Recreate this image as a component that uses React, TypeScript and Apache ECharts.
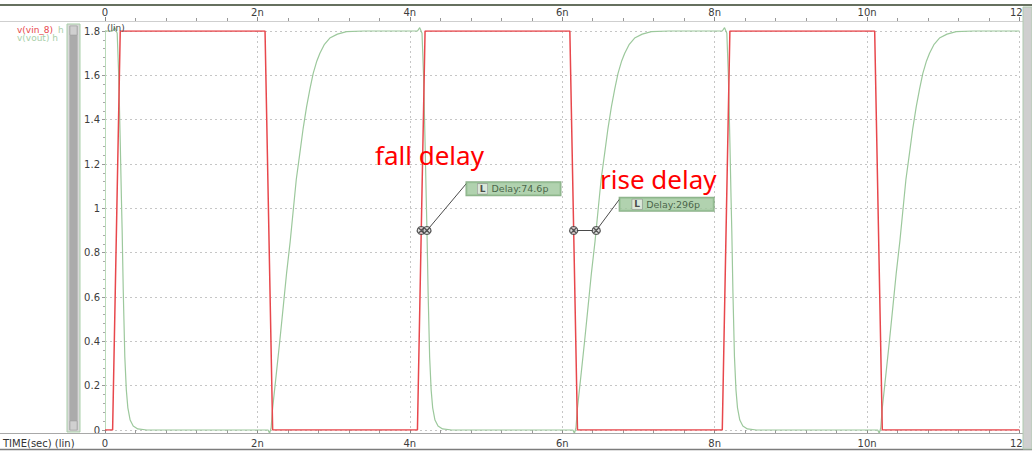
import React, { useEffect, useRef } from "react";
import * as echarts from "echarts";

// time in ns, values in volts
const vinTime = [0, 0.1, 0.2, 2.1, 2.2, 4.1, 4.2, 6.1, 6.2, 8.1, 8.2, 10.1, 10.2, 12];
const vinValue = [0, 0, 1.8, 1.8, 0, 0, 1.8, 1.8, 0, 0, 1.8, 1.8, 0, 0];

const voutTime = [
  0, 0.1, 0.13, 0.16, 0.18, 0.2, 0.215, 0.225, 0.24, 0.26, 0.28, 0.3, 0.33, 0.37, 0.43, 0.55,
  2.1, 2.14, 2.16, 2.18, 2.2, 2.25, 2.295, 2.34, 2.383, 2.43, 2.47, 2.51, 2.557, 2.6, 2.645, 2.69, 2.732, 2.78, 2.82, 2.88, 2.95, 3.05, 3.17, 3.4,
  4.1, 4.13, 4.16, 4.18, 4.2, 4.215, 4.225, 4.24, 4.26, 4.28, 4.3, 4.33, 4.37, 4.43, 4.55,
  6.1, 6.14, 6.16, 6.18, 6.2, 6.25, 6.295, 6.34, 6.383, 6.43, 6.47, 6.51, 6.557, 6.6, 6.645, 6.69, 6.732, 6.78, 6.82, 6.88, 6.95, 7.05, 7.17, 7.4,
  8.1, 8.13, 8.16, 8.18, 8.2, 8.215, 8.225, 8.24, 8.26, 8.28, 8.3, 8.33, 8.37, 8.43, 8.55,
  10.1, 10.14, 10.16, 10.18, 10.2, 10.25, 10.295, 10.34, 10.383, 10.43, 10.47, 10.51, 10.557, 10.6, 10.645, 10.69, 10.732, 10.78, 10.82, 10.88, 10.95, 11.05, 11.17, 11.4,
  12,
];
const voutValue = [
  1.8, 1.8, 1.815, 1.79, 1.6, 1.3, 1.05, 0.9, 0.62, 0.33, 0.18, 0.1, 0.045, 0.018, 0.005, 0,
  0, 0, -0.015, 0.01, 0.1, 0.26, 0.406, 0.56, 0.708, 0.85, 0.99, 1.13, 1.249, 1.36, 1.458, 1.54, 1.609, 1.665, 1.7, 1.74, 1.768, 1.786, 1.797, 1.8,
  1.8, 1.815, 1.79, 1.6, 1.3, 1.05, 0.9, 0.62, 0.33, 0.18, 0.1, 0.045, 0.018, 0.005, 0,
  0, 0, -0.015, 0.01, 0.1, 0.26, 0.406, 0.56, 0.708, 0.85, 0.99, 1.13, 1.249, 1.36, 1.458, 1.54, 1.609, 1.665, 1.7, 1.74, 1.768, 1.786, 1.797, 1.8,
  1.8, 1.815, 1.79, 1.6, 1.3, 1.05, 0.9, 0.62, 0.33, 0.18, 0.1, 0.045, 0.018, 0.005, 0,
  0, 0, -0.015, 0.01, 0.1, 0.26, 0.406, 0.56, 0.708, 0.85, 0.99, 1.13, 1.249, 1.36, 1.458, 1.54, 1.609, 1.665, 1.7, 1.74, 1.768, 1.786, 1.797, 1.8,
  1.8,
];

const fallMarkers = [[4.15, 0.9], [4.2246, 0.9]];
const riseMarkers = [[6.15, 0.9], [6.446, 0.9]];
const fallLabelAt = [4.75, 1.115];
const riseLabelAt = [6.76, 1.045];
const delayTexts = ["Delay:74.6p", "Delay:296p"];
const signalNames = ["v(vin_8)", "v(vout)"];

const RED = "#e8474c";
const GREEN = "#9cc89c";
const AXIS_FONT = "DejaVu Sans";

const zip = (a: number[], b: number[]) => a.map((t, i) => [t, b[i]]);

const markerSymbol =
  "path://M5,0.6A4.4,4.4,0,1,1,4.99,0.6Z M2,2L8,8M8,2L2,8";

export default function App() {
  const ref = useRef<HTMLDivElement>(null);
  useEffect(() => {
    if (!ref.current) return;
    const chart = echarts.init(ref.current, undefined, { renderer: "svg" });
    const xFmt = (v: number) => (v === 0 ? "0" : `${Math.round(v)}n`);
    const labelStyle = {
      fontFamily: AXIS_FONT,
      fontSize: 10,
      color: "#3c3c3c",
    };
    const delayLabel = (text: string) => ({
      show: true,
      position: [0, 0],
      align: "left",
      verticalAlign: "top",
      formatter: `{i|L}{t|${text}}`,
      backgroundColor: "#9ec79b",
      borderColor: "#6e9e6c",
      borderWidth: 1,
      padding: [1, 3, 1, 2],
      width: 89,
      height: 11,
      rich: {
        i: {
          backgroundColor: "#e6eee4",
          borderColor: "#7a7a7a",
          borderWidth: 0.5,
          color: "#222",
          fontSize: 9,
          fontWeight: "bold",
          fontFamily: AXIS_FONT,
          width: 10,
          height: 10,
          align: "center",
          lineHeight: 11,
        },
        t: {
          color: "#2e472e",
          fontSize: 9.5,
          fontFamily: AXIS_FONT,
          padding: [0, 0, 0, 4],
          lineHeight: 11,
        },
      },
    });
    chart.setOption({
      animation: false,
      backgroundColor: "#ffffff",
      grid: { left: 105, right: 12, top: 31, bottom: 21 },
      xAxis: [
        {
          type: "value",
          min: 0,
          max: 12,
          interval: 2,
          position: "bottom",
          offset: 3,
          axisLine: { show: false },
          axisTick: { show: true, length: 4, lineStyle: { color: "#888" } },
          minorTick: { show: true, splitNumber: 5, length: 3, lineStyle: { color: "#999" } },
          axisLabel: { ...labelStyle, margin: 5, formatter: xFmt },
          splitLine: { show: true, lineStyle: { color: "#c6c6c6", type: [2, 3] } },
        },
        {
          type: "value",
          min: 0,
          max: 12,
          interval: 2,
          position: "top",
          offset: 10,
          axisLine: { show: false },
          axisTick: { show: true, length: 4, lineStyle: { color: "#888" } },
          minorTick: { show: true, splitNumber: 5, length: 3, lineStyle: { color: "#999" } },
          axisLabel: { ...labelStyle, margin: 4, formatter: xFmt },
          splitLine: { show: false },
        },
      ],
      yAxis: {
        type: "value",
        min: 0,
        max: 1.8,
        interval: 0.2,
        axisLine: { show: true, lineStyle: { color: "#b9dab9", width: 1 } },
        axisTick: { show: true, length: 3, lineStyle: { color: "#999" } },
        minorTick: { show: true, splitNumber: 5, length: 2, lineStyle: { color: "#aaa" } },
        axisLabel: {
          ...labelStyle,
          margin: 5,
          formatter: (v: number) => String(Math.round(v * 10) / 10),
        },
        splitLine: { show: true, lineStyle: { color: "#c6c6c6", type: [2, 3] } },
      },
      series: [
        {
          name: signalNames[1],
          type: "line",
          data: zip(voutTime, voutValue),
          symbol: "none",
          clip: false,
          lineStyle: { color: GREEN, width: 1.2 },
          z: 2,
        },
        {
          name: signalNames[0],
          type: "line",
          data: zip(vinTime, vinValue),
          symbol: "none",
          lineStyle: { color: RED, width: 1.5 },
          z: 3,
        },
        {
          type: "line",
          data: [...fallMarkers, fallLabelAt],
          symbol: "none",
          lineStyle: { color: "#4a4a4a", width: 1 },
          z: 4,
        },
        {
          type: "line",
          data: [...riseMarkers, riseLabelAt],
          symbol: "none",
          lineStyle: { color: "#4a4a4a", width: 1 },
          z: 4,
        },
        {
          type: "scatter",
          data: [...fallMarkers, ...riseMarkers],
          symbol: markerSymbol,
          symbolSize: 8,
          itemStyle: { color: "#d8d8d8", borderColor: "#333", borderWidth: 1.2 },
          z: 5,
        },
        {
          type: "scatter",
          data: [
            { value: fallLabelAt, label: delayLabel(delayTexts[0]) },
            { value: riseLabelAt, label: delayLabel(delayTexts[1]) },
          ],
          symbol: "circle",
          symbolSize: 1,
          itemStyle: { color: "rgba(0,0,0,0)" },
          z: 6,
        },
      ],
      graphic: [
        { type: "rect", z: 50, shape: { x: 0, y: 4, width: 1032, height: 2 }, style: { fill: "#66705f" } },
        { type: "line", z: 50, shape: { x1: 0, y1: 21.5, x2: 1032, y2: 21.5 }, style: { stroke: "#cfcfcf", lineWidth: 1 } },
        { type: "line", z: 50, shape: { x1: 0, y1: 433.5, x2: 1032, y2: 433.5 }, style: { stroke: "#a8a8a8", lineWidth: 1 } },
        { type: "line", z: 50, shape: { x1: 0, y1: 449.5, x2: 1032, y2: 449.5 }, style: { stroke: "#7c7c7c", lineWidth: 1.5 } },
        // legend names in left panel
        { type: "text", z: 40, left: 17, top: 25, style: { text: signalNames[0], fill: RED, font: `9px '${AXIS_FONT}'` } },
        { type: "text", z: 40, left: 58, top: 25, style: { text: "h", fill: "#a9cfa9", font: `9px '${AXIS_FONT}'` } },
        { type: "text", z: 40, left: 17, top: 33, style: { text: signalNames[1] + " h", fill: "#a9cfa9", font: `9px '${AXIS_FONT}'` } },
        // left scrollbar
        { type: "rect", z: 60, shape: { x: 67, y: 24, width: 13, height: 408 }, style: { fill: "#d9d9d9", stroke: "#a9cfa9", lineWidth: 1 } },
        { type: "rect", z: 61, shape: { x: 69.5, y: 26, width: 8, height: 404 }, style: { fill: "#ababab", stroke: "#bcbcbc", lineWidth: 1 } },
        { type: "rect", z: 62, shape: { x: 70, y: 26, width: 7, height: 9 }, style: { fill: "#d0d0d0", stroke: "#9a9a9a", lineWidth: 0.5 } },
        { type: "rect", z: 62, shape: { x: 70, y: 421, width: 7, height: 9 }, style: { fill: "#d0d0d0", stroke: "#9a9a9a", lineWidth: 0.5 } },
        // right bar
        { type: "rect", z: 60, shape: { x: 1023, y: 7, width: 9, height: 442 }, style: { fill: "#cfcfcf", stroke: "#b0ccb0", lineWidth: 1 } },
        // axis captions
        { type: "text", z: 40, left: 3, top: 438, style: { text: "TIME(sec) (lin)", fill: "#333", font: `10px '${AXIS_FONT}'` } },
        { type: "text", z: 40, left: 107, top: 23, style: { text: "(lin)", fill: "#444", font: `9px '${AXIS_FONT}'` } },
        // annotations
        { type: "text", z: 70, left: 375, top: 142, style: { text: "fall delay", fill: "#ff0000", font: "26px 'Noto Sans'" } },
        { type: "text", z: 70, left: 600, top: 166, style: { text: "rise delay", fill: "#ff0000", font: "26px 'Noto Sans'" } },
      ],
    });
    return () => chart.dispose();
  }, []);
  return (
    <div
      ref={ref}
      style={{ position: "fixed", left: 0, top: 0, width: 1032, height: 451, background: "#fff" }}
    />
  );
}
